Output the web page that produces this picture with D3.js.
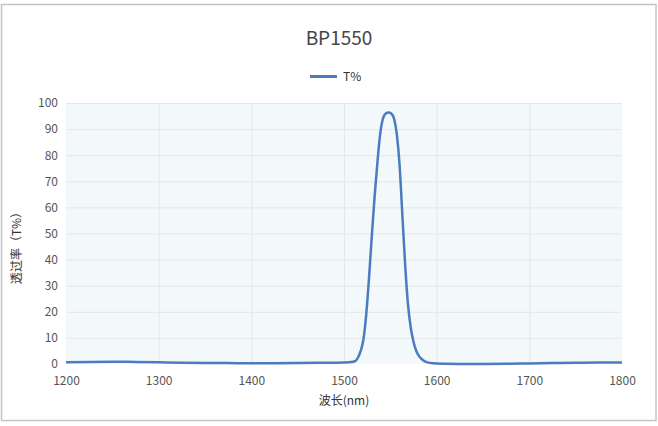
<!DOCTYPE html>
<html>
<head>
<meta charset="utf-8">
<script src="https://cdn.jsdelivr.net/npm/d3@7"></script>
<style>
  html, body { margin: 0; padding: 0; background: #fff; }
  svg { display: block; font-family: "Microsoft YaHei", "Noto Sans CJK SC", "Noto Sans", sans-serif; }
</style>
</head>
<body>
<svg id="chart" width="658" height="426"></svg>
<script>
const chartTitle = "BP1550";
const seriesName = "T%";
const xAxisTitle = "波长(nm)";
const yAxisTitle = "透过率（T%）";
const xTicks = [1200, 1300, 1400, 1500, 1600, 1700, 1800];
const yTicks = [0, 10, 20, 30, 40, 50, 60, 70, 80, 90, 100];

const wavelengths = [1200, 1225, 1250, 1275, 1300, 1325, 1350, 1375, 1400, 1425, 1450, 1475, 1500, 1508,
  1512, 1515, 1518, 1521, 1524, 1527, 1530, 1533, 1536, 1539, 1542, 1545, 1548, 1551, 1554, 1557, 1560,
  1563, 1566, 1569, 1572, 1575, 1578, 1581, 1585, 1590, 1596, 1610, 1630, 1650, 1675, 1700, 1725, 1750, 1775, 1800];
const transmission = [0.7, 0.8, 0.85, 0.8, 0.65, 0.5, 0.4, 0.35, 0.3, 0.3, 0.35, 0.45, 0.6, 0.75,
  1.1, 2.4, 5, 9.5, 19, 33, 49, 64, 77, 88, 94, 96, 96.4, 96, 94, 88, 76,
  57, 38, 23, 14, 8.5, 5, 3, 1.5, 0.6, 0.25, 0.1, 0.02, 0.0, 0.05, 0.2, 0.35, 0.45, 0.55, 0.6];

const svg = d3.select("#chart");
const W = 658, H = 426;
const m = { left: 66, right: 36, top: 103, bottom: 62 };
const pw = W - m.left - m.right, ph = H - m.top - m.bottom;

// outer border
svg.append("rect").attr("x", 1.5).attr("y", 4.5).attr("width", 654.5).attr("height", 416)
  .attr("fill", "#fff").attr("stroke", "#c4c4c4").attr("stroke-width", 1.5);

const x = d3.scaleLinear().domain([1200, 1800]).range([m.left, m.left + pw]);
const y = d3.scaleLinear().domain([0, 100]).range([m.top + ph, m.top]);

// plot background
svg.append("rect").attr("x", m.left).attr("y", m.top).attr("width", pw).attr("height", ph).attr("fill", "#f3f8fb");

// grid
svg.append("g").selectAll("line").data(yTicks.filter(d => d > 0)).join("line")
  .attr("x1", m.left).attr("x2", m.left + pw).attr("y1", d => y(d) + 0.5).attr("y2", d => y(d) + 0.5)
  .attr("stroke", "#e3e7ea").attr("stroke-width", 1);
svg.append("g").selectAll("line").data(xTicks.filter(d => d > 1200 && d < 1800)).join("line")
  .attr("x1", d => x(d) + 0.5).attr("x2", d => x(d) + 0.5).attr("y1", m.top).attr("y2", m.top + ph)
  .attr("stroke", "#e3e7ea").attr("stroke-width", 1);

// axes
const xAxis = svg.append("g").attr("transform", `translate(0,${m.top + ph})`)
  .call(d3.axisBottom(x).tickValues(xTicks).tickFormat(d3.format("d")).tickSize(0).tickPadding(12));
const yAxis = svg.append("g").attr("transform", `translate(${m.left},0)`)
  .call(d3.axisLeft(y).tickValues(yTicks).tickSize(0).tickPadding(8));
[xAxis, yAxis].forEach(g => {
  g.select(".domain").remove();
  g.selectAll("text").attr("fill", "#555").attr("font-size", 12)
    .attr("font-family", "\"Microsoft YaHei\", \"Noto Sans CJK SC\", sans-serif");
});

// line
const data = wavelengths.map((w, i) => ({ w, t: transmission[i] }));
svg.append("path").datum(data)
  .attr("fill", "none").attr("stroke", "#4a7cbf").attr("stroke-width", 2.5)
  .attr("stroke-linejoin", "round")
  .attr("d", d3.line().x(d => x(d.w)).y(d => y(d.t)).curve(d3.curveMonotoneX));

// title
svg.append("text").attr("x", 339).attr("y", 45).attr("text-anchor", "middle")
  .attr("font-size", 19).attr("fill", "#464646").text(chartTitle);

// legend
svg.append("line").attr("x1", 310).attr("x2", 337).attr("y1", 76.5).attr("y2", 76.5)
  .attr("stroke", "#4a7cbf").attr("stroke-width", 3);
svg.append("text").attr("x", 343).attr("y", 81).attr("font-size", 12).attr("fill", "#333").text(seriesName);

// axis titles
svg.append("text").attr("x", m.left + pw / 2).attr("y", 405).attr("text-anchor", "middle")
  .attr("font-size", 12).attr("fill", "#333").text(xAxisTitle);
svg.append("text").attr("transform", `translate(21,245) rotate(-90)`).attr("text-anchor", "middle")
  .attr("font-size", 12).attr("fill", "#333").text(yAxisTitle);
</script>
</body>
</html>
